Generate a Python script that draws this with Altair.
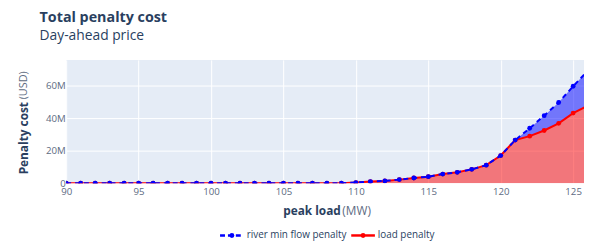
import altair as alt
import pandas as pd

# ---- data (values in millions of USD) ----
peak_load = list(range(90, 127))
load_penalty = [0] * 18 + [0, 0, 0.4, 1.0, 1.4, 2.2, 3.2, 4.0, 5.6, 6.7, 8.5, 11.1,
                           17.0, 26.5, 28.9, 32.4, 36.8, 43.1, 47.5]
river_penalty = [0] * 32 + [4.9, 9.1, 12.8, 16.5, 21.5]
x_ticks = [90, 95, 100, 105, 110, 115, 120, 125]
y_ticks = [0, 20, 40, 60]

df = pd.DataFrame({
    "x": peak_load,
    "load": load_penalty,
    "total": [a + b for a, b in zip(load_penalty, river_penalty)],
})

FONT = "Open Sans"
TXT = "#2a3f5f"
TICK = "#5d6b82"
W, H = 525, 125

xs = alt.X("x:Q", scale=alt.Scale(domain=[90, 125.75], nice=False, zero=False),
           axis=alt.Axis(values=x_ticks, title=None, labelFont=FONT, labelFontSize=9.8,
                         labelColor=TICK, domain=False, ticks=False, labelPadding=3,
                         grid=True, gridColor="white", gridWidth=1, labelFlush=False))
ys = alt.Y("total:Q", scale=alt.Scale(domain=[0, 75.8], nice=False),
           axis=alt.Axis(values=y_ticks, title=None, labelFont=FONT, labelFontSize=9.8,
                         labelColor=TICK, domain=False, ticks=False, labelPadding=1,
                         grid=True, gridColor="white", gridWidth=1,
                         labelExpr="datum.value == 0 ? '0' : datum.value + 'M'"))

base = alt.Chart(df)
red_area = base.mark_area(color="red", opacity=0.5, clip=True).encode(
    x=xs, y=alt.Y("load:Q", scale=alt.Scale(domain=[0, 75.8], nice=False)), y2=alt.value(H))
blue_area = base.mark_area(color="blue", opacity=0.5, clip=True).encode(
    x=xs, y=ys, y2="load:Q")
red_line = base.mark_line(color="red", strokeWidth=2, clip=True).encode(x=xs, y="load:Q")
red_pts = base.mark_point(color="red", filled=True, opacity=1, size=24, clip=True).encode(
    x=xs, y="load:Q")
blue_line = base.mark_line(color="blue", strokeWidth=2, strokeDash=[5, 4], clip=True).encode(
    x=xs, y="total:Q")
blue_pts = base.mark_point(color="blue", filled=True, opacity=1, size=24, clip=True).encode(
    x=xs, y="total:Q")

one = pd.DataFrame({"k": [0]})


def txt(s, x, y, size=12, bold=False, color=TXT, angle=0, align="left"):
    kw = dict(font=FONT, fontSize=size, color=color, align=align, baseline="middle")
    if bold:
        kw["fontWeight"] = "bold"
    if angle:
        kw["angle"] = angle
    return alt.Chart(one).mark_text(**kw).encode(
        x=alt.value(x), y=alt.value(y), text=alt.value(s))


def legend_sym(x0, color, dash):
    kw = dict(color=color, strokeWidth=2.5)
    if dash:
        kw["strokeDash"] = [5, 3]
    line = alt.Chart(one).mark_rule(**kw).encode(
        x=alt.value(x0), x2=alt.value(x0 + 24), y=alt.value(178))
    dot = alt.Chart(one).mark_point(color=color, filled=True, opacity=1, size=24).encode(
        x=alt.value(x0 + 12), y=alt.value(178))
    return line + dot


labels = (
    txt("Total penalty cost", -27, -42, size=14.5, bold=True)
    + txt("Day-ahead price", -27, -24, size=14)
    + txt("peak load", 220, 153, size=12, bold=True)
    + txt("(MW)", 280, 153, size=12, color="#5d6b82")
    + txt("Penalty cost", -43, 116, size=12, bold=True, angle=270)
    + txt("(USD)", -43, 40, size=11, color="#5d6b82", angle=270)
    + legend_sym(156, "blue", True)
    + txt("river min flow penalty", 183, 178, size=10)
    + legend_sym(289, "red", False)
    + txt("load penalty", 316, 178, size=10)
)

chart = alt.layer(
    red_area, blue_area, red_line, red_pts, blue_line, blue_pts, labels
).properties(
    width=W, height=H, autosize="none",
    padding={"left": 59, "top": 51, "right": 0, "bottom": 58},
).configure_view(fill="#e5ecf6", stroke=None)

chart.save("out.html", embed_options={"renderer": "svg", "actions": False})
